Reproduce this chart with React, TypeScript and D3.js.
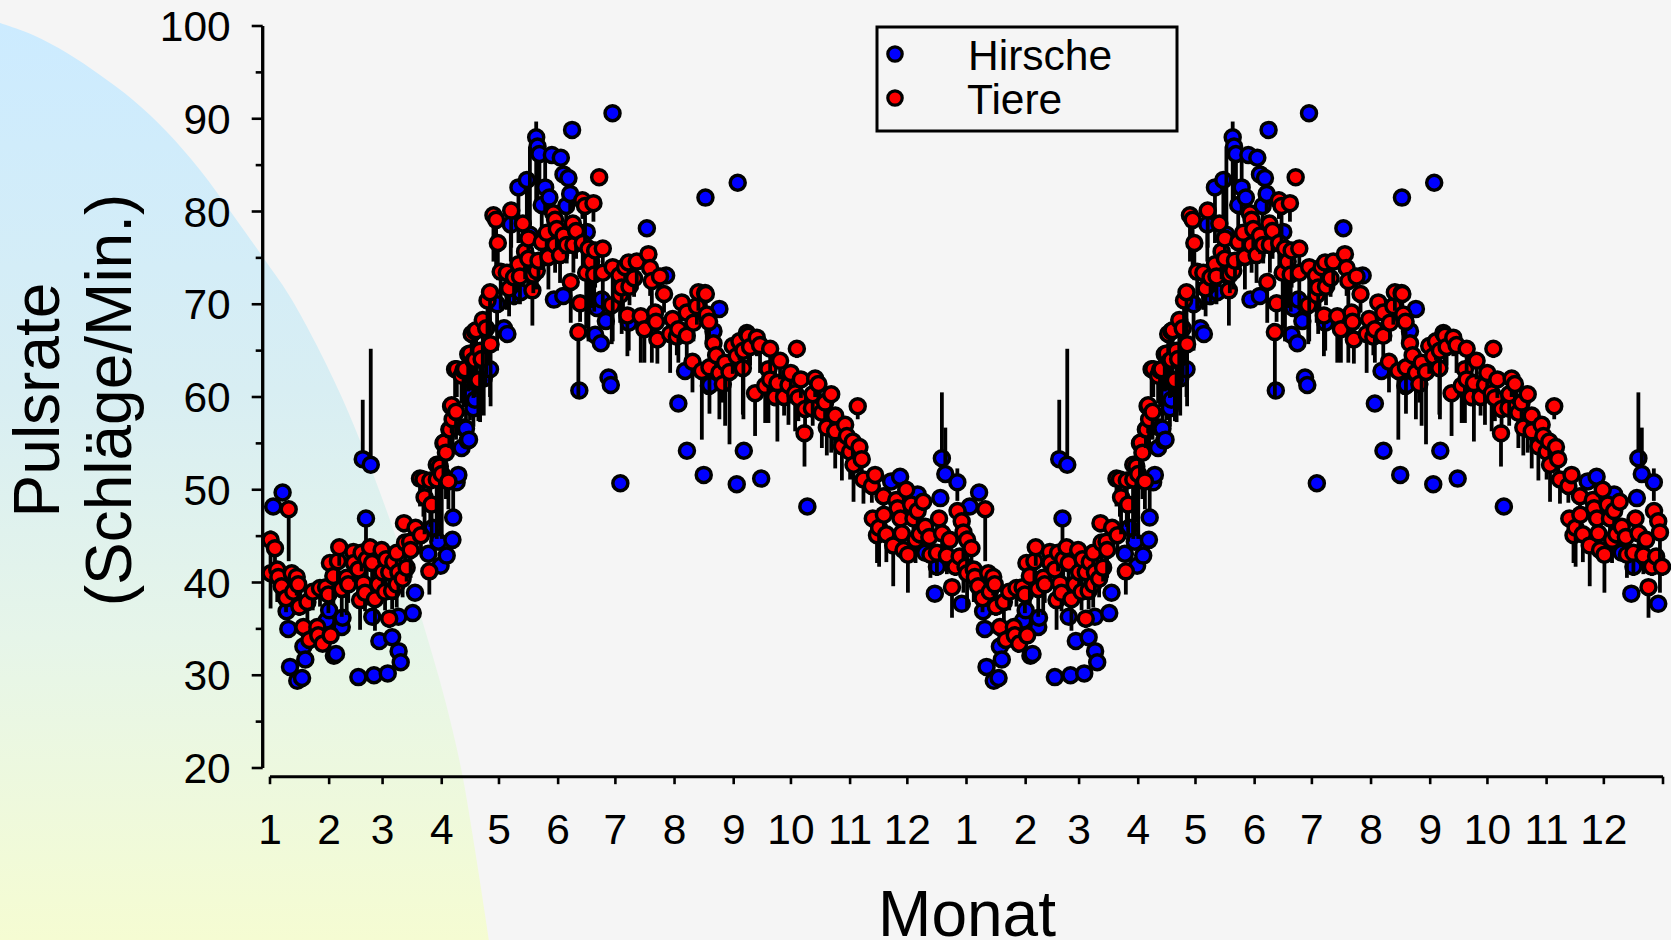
import React, { useEffect, useRef } from 'react';
import * as d3 from 'd3';

type Row = [number, number, number?, number?]; // day of year, pulse, error down, error up

const WIDTH = 1671;
const HEIGHT = 940;

const monthStarts = [0, 31, 59, 90, 120, 151, 181, 212, 243, 273, 304, 334];
const monthLabels = ['1', '2', '3', '4', '5', '6', '7', '8', '9', '10', '11', '12'];
const yMajor = [20, 30, 40, 50, 60, 70, 80, 90, 100];
const yMinor = [25, 35, 45, 55, 65, 75, 85, 95];

const hirsche: Row[] = [
  [1.7, 48.2], [6.6, 49.7], [8.7, 36.9], [9.6, 35], [10.5, 30.9], [14.3, 29.4], [16.8, 29.7], [17.5, 33.1],
  [18.5, 31.7], [29.7, 35.9], [31, 37], [33.5, 32.1], [34.6, 32.3], [37.6, 35.2], [38, 36.2], [46.3, 29.8],
  [48.6, 53.3, 0, 6.4], [50.3, 46.9, 3], [52.8, 52.7, 0, 12.5], [53.6, 36.3], [54.5, 30], [57.3, 33.7],
  [61.7, 30.2], [64, 34.1], [67.3, 36.3], [67.4, 32.6], [68.5, 31.4], [74.8, 36.7], [76, 38.9], [83, 43.1],
  [85.3, 45.9], [88.2, 44.4], [89.4, 41.8], [92.6, 42.9], [95.6, 44.6], [96, 47, 0, 3], [97.8, 50.8], [98.7, 51.6],
  [100.4, 54.5], [101.3, 56.7], [103.6, 55.3], [104.3, 55.4], [102.7, 56.6, 0, 2], [104.8, 60.5, 3], [106.6, 58.8, 2],
  [107.4, 59.7], [112, 62, 4], [115.3, 63, 3], [119, 70, 5], [122.6, 67.4], [124.4, 66.8], [126.2, 78.6, 4],
  [127.6, 70.9], [130.2, 82.6, 6], [131.4, 71.3], [134.6, 83.4, 7], [136.2, 77.5, 2, 9.5], [139.5, 88, 7.4, 1.7],
  [140.2, 87, 6], [141.2, 86.2, 4], [142.4, 80.7, 5], [144.2, 82.6, 3, 3], [146.4, 81.5, 3], [147.7, 86.1],
  [148.8, 70.5], [152.4, 85.8], [153.7, 70.9], [153.8, 84], [155.2, 80.6, 2], [156.4, 83.6], [157.3, 81.9, 2],
  [158.3, 88.8], [162.1, 60.7], [166, 77.8], [170.4, 66.7], [171.3, 69.6], [173.4, 65.8], [173.9, 70.5],
  [176, 68.2], [177.4, 62.1], [178.6, 61.3], [179.5, 90.6], [183.6, 50.7], [185, 72, 3], [188, 68, 3], [197.5, 78.2],
  [207.6, 73.1], [214, 59.3], [217.5, 62.8], [218.5, 54.2], [227.3, 51.6], [228.2, 81.5], [230, 61.2], [230.6, 61.3],
  [232.4, 67.1], [235.5, 69.5], [244.6, 50.6], [245.1, 83.1], [248.3, 54.2], [257.4, 51.2], [281.6, 48.2],
  [325.5, 50.9], [330.2, 51.4], [339.4, 49.5], [343.4, 43.2], [348.4, 38.8], [349.5, 41.7], [351.3, 49.1],
  [352.1, 53.4, 0, 7.1], [353.9, 51.7, 0, 5], [360.2, 50.8, 2, 1.5], [362.5, 37.7],
];

const tiere: Row[] = [
  [0.3, 44.6, 3, 1], [0.3, 41, 3.8], [2.6, 43.7, 4], [3.8, 41.4, 3.5], [4.4, 40.6, 2], [6.1, 39.6, 2], [8.4, 38.3, 1.5],
  [9.8, 47.9, 5.6], [11.4, 41, 2], [12.2, 39, 2], [14, 40.6, 2], [14.8, 39.8, 2], [15.4, 37.4, 1], [17.5, 35.2, 1],
  [19.6, 37.9, 2], [20.6, 33.8], [22.4, 39, 2], [24.8, 35.2, 1], [25.3, 34.3], [26.2, 39.4, 2], [27.6, 33.4],
  [29.4, 39.5, 1], [30.6, 38.7, 2], [31.8, 34.3], [31.4, 42.1, 2], [33.2, 40.7, 3], [35.6, 42.3, 3], [36.3, 43.8, 2],
  [37.6, 39.3, 3], [40.2, 40.5, 4], [41, 39.8, 2], [43.7, 43.3, 2], [44, 42.1, 2], [46.3, 41.4, 3], [47.2, 38.1, 3.2],
  [48, 43.2, 2], [49, 39.9, 1], [49.8, 38.9, 2], [50.7, 42.5, 2], [52.4, 43.8, 2], [53.5, 42.1, 3], [55, 38.2, 3.4],
  [56.8, 39.8, 1], [58.5, 43.5, 2], [59, 41.1, 2], [60.3, 39, 2], [60.8, 42.5, 2], [62.5, 41.1, 2], [62.5, 36.1, 1],
  [64, 39.1, 2], [64.6, 42.2, 2], [66.4, 43.2, 2], [66.4, 39.8, 2.5], [67.3, 41.1, 2], [69.5, 40.4, 2], [70.2, 46.4, 1],
  [70.8, 44.3, 2], [71.6, 41.6, 1.5], [73.4, 44.4, 2], [73.7, 43.5, 3], [76.3, 45.9, 1], [79.1, 45.1, 2], [78.6, 51.2, 3],
  [80.4, 51.1, 4], [81, 49.2, 4], [83.5, 41.2, 2.5], [84, 51, 5], [84.7, 48.4, 4], [87.4, 52.7, 8], [87.4, 51.1, 6],
  [89, 52.5, 6], [90, 51.7, 7], [90.9, 55, 4], [91.2, 55.1, 2], [92.2, 54, 5], [93.5, 50.9, 3], [94, 56.5, 2],
  [94.3, 56.5, 2], [94.9, 59, 2], [95.7, 57.6, 3], [97.5, 58.4, 3], [95.2, 59.1, 3], [97, 63, 3], [97.9, 63, 3],
  [100.4, 62.3, 3], [101.4, 62.9, 4], [102.2, 63, 4], [103.9, 64.6, 4], [104.9, 64.7, 4], [105.7, 66.8, 5], [106.6, 63.9, 4],
  [107.4, 67.1, 5], [107.4, 64, 4], [108, 67.2, 6], [109.2, 61.8, 4.4], [110.1, 65, 7.7], [110.9, 64.1, 5], [111.5, 68.3, 9.6],
  [113.3, 67.4, 5], [114, 70.4, 7], [115.3, 71.3, 6], [115.6, 65.7, 6.7], [117.1, 79.6, 5], [118.5, 79.1, 5], [119.4, 76.6, 4],
  [120.9, 73.5, 4], [124.1, 73.4, 4], [125.3, 71.7, 3], [126.4, 80.1, 4], [127.9, 72.9, 3], [130.2, 74.3, 3], [131, 73, 3],
  [132.5, 78.7, 3], [133.7, 75.7, 3], [135.4, 77.1, 4], [135.4, 74.9, 3], [137.5, 71.5, 3.8], [138, 73.2, 2], [139.8, 73.6, 2],
  [140.7, 74.7, 2], [142.4, 76.7, 3], [145, 77.7, 2], [145.9, 75.1, 3.5], [148.5, 79.8, 3], [149.4, 79.1, 4], [149.4, 76.4, 3],
  [150.3, 78.1, 2], [152, 75.3, 3], [153.8, 77.4, 2], [155.5, 76.4, 2], [157.6, 72.4, 4.4], [158.7, 78.7, 2], [159, 76.4, 3],
  [160.4, 77.9, 3], [161.6, 67, 7], [162.5, 70.1, 2], [163.7, 81.2, 2], [163.9, 76.6, 3], [165.1, 80.6, 4], [165.7, 73.4, 6],
  [166.9, 76, 10], [168.3, 74.6, 5], [169.5, 80.9, 2], [169.9, 73.2, 4], [170.4, 75.8, 4], [172.5, 83.7], [174.4, 76, 2],
  [174.4, 73.4, 4], [179.1, 69.9, 4.2], [179.6, 74, 8], [183.1, 73.1, 3], [183.5, 71, 3], [184.3, 71.8, 5], [186.1, 74, 2],
  [187.3, 68.8, 4.4], [187.9, 74.5, 2], [188.4, 71.9, 2], [190.8, 72.8, 2], [192.2, 74.6, 3], [194.3, 68.7, 5],
  [196.2, 67.3, 3.6], [198.3, 75.4, 3], [199.2, 73.9, 3], [200.1, 72.5, 8.8], [201.8, 69.1, 2], [202.3, 68.1, 2], [203, 66.2, 2.6],
  [204.4, 73, 2], [206.5, 71.1, 2], [209.7, 66.8, 4.2], [211, 68.4, 2], [213.2, 66.5, 2], [214, 67.3, 3.6], [215.8, 70.2, 2],
  [218.4, 69.1, 3], [218.4, 66.6, 3], [221.4, 63.8, 3.3], [221.9, 68, 2], [223.7, 69.8, 2], [224.5, 71.3, 2], [226.3, 62.8, 7.4],
  [228, 71.2, 3], [228.4, 71.1, 2], [228.9, 68.9, 3], [230.1, 68.1, 2], [230.3, 63.2, 5], [232.4, 65.8, 2], [233.8, 64.5, 2],
  [235.5, 62.6, 5], [237.3, 61.4, 2], [238.5, 63.7, 6.8], [240.8, 62.7, 7.8], [242.5, 65.5, 3], [244.6, 64.4, 2], [246, 66, 2],
  [247.8, 63.1, 5], [248.1, 65, 7.4], [249.9, 66.9, 2], [250.7, 66.6, 3], [251.6, 65.4, 2], [254.2, 60.4, 4.6], [255.1, 66.4, 2],
  [256.8, 65.6, 3], [259.5, 61.2, 4], [261.2, 63, 5.8], [262.1, 65.2, 3], [262.1, 61.9, 2], [264.7, 60, 1], [265.9, 61.5, 6.3],
  [267.3, 63.9, 2], [269.4, 60, 2], [271.7, 61.3, 4.3], [272.9, 62.6, 3], [275.2, 60.4, 4.1], [276.1, 65.2, 1], [276.9, 59.9, 2.5],
  [278.2, 61.9, 2], [280.1, 56.1, 3.6], [280.4, 58.7, 2], [284, 58.8, 1], [284.4, 60.3, 3.4], [285.7, 62, 2], [287.4, 61.4, 2],
  [289.2, 58.3, 3.8], [290.9, 59.4, 2], [291.8, 56.7, 3], [294.1, 60.3, 6.3], [296.2, 58, 3], [296.2, 56.3, 4], [299.7, 54.7, 3.7],
  [301.4, 57, 2], [302.3, 55.8, 2], [304, 54.1, 3], [305.4, 55.2, 2], [305.8, 52.7, 4], [308, 59, 1.4], [308.9, 54.6, 2],
  [310.1, 53.3, 3], [311, 51.1, 2.6], [315.4, 50.4, 1.8], [315.9, 46.9, 2], [317.1, 51.6, 1], [318.1, 45.1, 3], [319.2, 45.9, 4.2],
  [321.5, 49.3, 2], [321.7, 47.3, 2], [323, 45.2, 3], [326.6, 44, 4.4], [328.2, 48.9, 2], [328.9, 48, 2], [330.4, 46.9, 2],
  [331.1, 45.3, 2], [332, 43.5, 1], [333.4, 50, 2], [334.3, 43, 4.1], [336, 48.4, 2], [337.2, 46.9, 3], [338.3, 44.6, 2.5],
  [339.4, 47.7, 3], [340.5, 45.2, 1], [342.3, 48.7, 1], [343.4, 46, 1], [345.5, 44.9, 1], [346.1, 43, 2.5], [349.5, 43.2, 2.5],
  [350.6, 46.9, 2], [352.2, 45.3, 2], [354.7, 42.9, 2], [356.2, 44.6, 1], [357.4, 39.5, 3.3], [359.2, 41.7, 1], [360.3, 47.7, 2],
  [361.4, 42.8, 1], [362.5, 46.6, 2], [363.4, 45.4, 6.5], [364.5, 41.7, 1],
];

const App = () => {
  const ref = useRef<SVGSVGElement>(null);

  useEffect(() => {
    document.body.style.margin = '0';
    const svg = d3.select(ref.current);
    svg.selectAll('*').remove();

    const x = d3.scaleLinear().domain([0, 730]).range([270, 1663]);
    const y = d3.scaleLinear().domain([20, 100]).range([768, 26]);

    // background ------------------------------------------
    svg.append('rect').attr('width', WIDTH).attr('height', HEIGHT).attr('fill', '#F5F5F5');

    const grad = svg.append('defs').append('linearGradient')
      .attr('id', 'blob').attr('gradientUnits', 'userSpaceOnUse')
      .attr('x1', 0).attr('y1', 23).attr('x2', 0).attr('y2', 940);
    [[0, '#CCEBFF'], [0.4, '#D8EEF3'], [0.67, '#E6F5E9'], [1, '#F5FCD2']].forEach(([o, c]) => {
      grad.append('stop').attr('offset', o as number).attr('stop-color', c as string);
    });

    const edge: [number, number][] = [[0, 23], [33, 35], [67, 53], [100, 75], [133, 100], [167, 132], [200, 170], [233, 215],
      [267, 263], [292, 300], [343, 400], [397, 540], [428, 640], [445, 700], [461, 768], [475, 850], [489, 940]];
    const blob = d3.line().curve(d3.curveCatmullRom)(edge);
    svg.append('path').attr('d', `${blob} L0,940 Z`).attr('fill', 'url(#blob)');

    // axes ------------------------------------------------
    const font = '"Liberation Sans", Arial, sans-serif';

    const yAxis = svg.append('g').attr('transform', 'translate(262.7,0)');
    yAxis.call(d3.axisLeft(y).tickValues(yMajor).tickSize(11).tickSizeOuter(0).tickPadding(21).offset(0) as any);
    yAxis.append('g').call(d3.axisLeft(y).tickValues(yMinor).tickSize(7).tickSizeOuter(0).tickFormat(() => '').offset(0) as any);
    yAxis.selectAll('path').attr('stroke-width', 3).attr('stroke', '#000');
    yAxis.selectAll('line').attr('stroke-width', 2.6).attr('stroke', '#000');
    yAxis.selectAll('text').attr('font-family', font).attr('font-size', 42.5).attr('fill', '#000').attr('dy', 15);

    const tickDays = [...monthStarts, ...monthStarts.map((d) => d + 365), 730];
    const xAxis = svg.append('g').attr('transform', 'translate(0,776.7)');
    xAxis.call(d3.axisBottom(x).tickValues(tickDays).tickSize(7.5).tickSizeOuter(0).tickPadding(7).offset(0)
      .tickFormat((_, i) => (i === 24 ? '' : monthLabels[i % 12])) as any);
    xAxis.selectAll('path').attr('stroke-width', 3).attr('stroke', '#000');
    xAxis.selectAll('line').attr('stroke-width', 2.6).attr('stroke', '#000');
    xAxis.selectAll('text').attr('font-family', font).attr('font-size', 42.5).attr('fill', '#000').attr('y', 67).attr('dy', 0);

    // marks, each point has its bar and then its circle, the later ones lie over the earlier ---
    const drawSeries = (rows: Row[], color: string) => {
      const sorted = [...rows].sort((a, b) => d3.ascending(a[0], b[0]));
      [0, 365].forEach((shift) => {
        const g = svg.append('g');
        sorted.forEach(([day, value, down = 0, up = 0]) => {
          if (down > 0 || up > 0) {
            g.append('line')
              .attr('x1', x(day + shift)).attr('x2', x(day + shift))
              .attr('y1', y(value - down)).attr('y2', y(value + up))
              .attr('stroke', '#000').attr('stroke-width', 3.8);
          }
          g.append('circle')
            .attr('cx', x(day + shift)).attr('cy', y(value)).attr('r', 7.5)
            .attr('fill', color).attr('stroke', '#000').attr('stroke-width', 3.5);
        });
      });
    };
    drawSeries(hirsche, '#0000FF');
    drawSeries(tiere, '#FF0000');

    // legend ----------------------------------------------
    svg.append('rect').attr('x', 877).attr('y', 27).attr('width', 300).attr('height', 104)
      .attr('fill', 'none').attr('stroke', '#000').attr('stroke-width', 3);
    [['Hirsche', '#0000FF', 54, 968, 70], ['Tiere', '#FF0000', 98, 967, 114]].forEach(([label, color, cy, tx, ty]) => {
      svg.append('circle').attr('cx', 895).attr('cy', cy as number).attr('r', 7.2)
        .attr('fill', color as string).attr('stroke', '#000').attr('stroke-width', 3.2);
      svg.append('text').attr('x', tx as number).attr('y', ty as number).attr('font-family', font)
        .attr('font-size', 42.5).text(label as string);
    });

    // titles ----------------------------------------------
    svg.append('text').attr('x', 967).attr('y', 936).attr('text-anchor', 'middle')
      .attr('font-family', font).attr('font-size', 64).text('Monat');
    [['Pulsrate', 59], ['(Schläge/Min.)', 131]].forEach(([label, bx]) => {
      svg.append('text').attr('transform', `translate(${bx},400) rotate(-90)`).attr('text-anchor', 'middle')
        .attr('font-family', font).attr('font-size', 64).text(label as string);
    });
  }, []);

  return <svg ref={ref} width={WIDTH} height={HEIGHT} style={{ display: 'block' }} />;
};

export default App;
